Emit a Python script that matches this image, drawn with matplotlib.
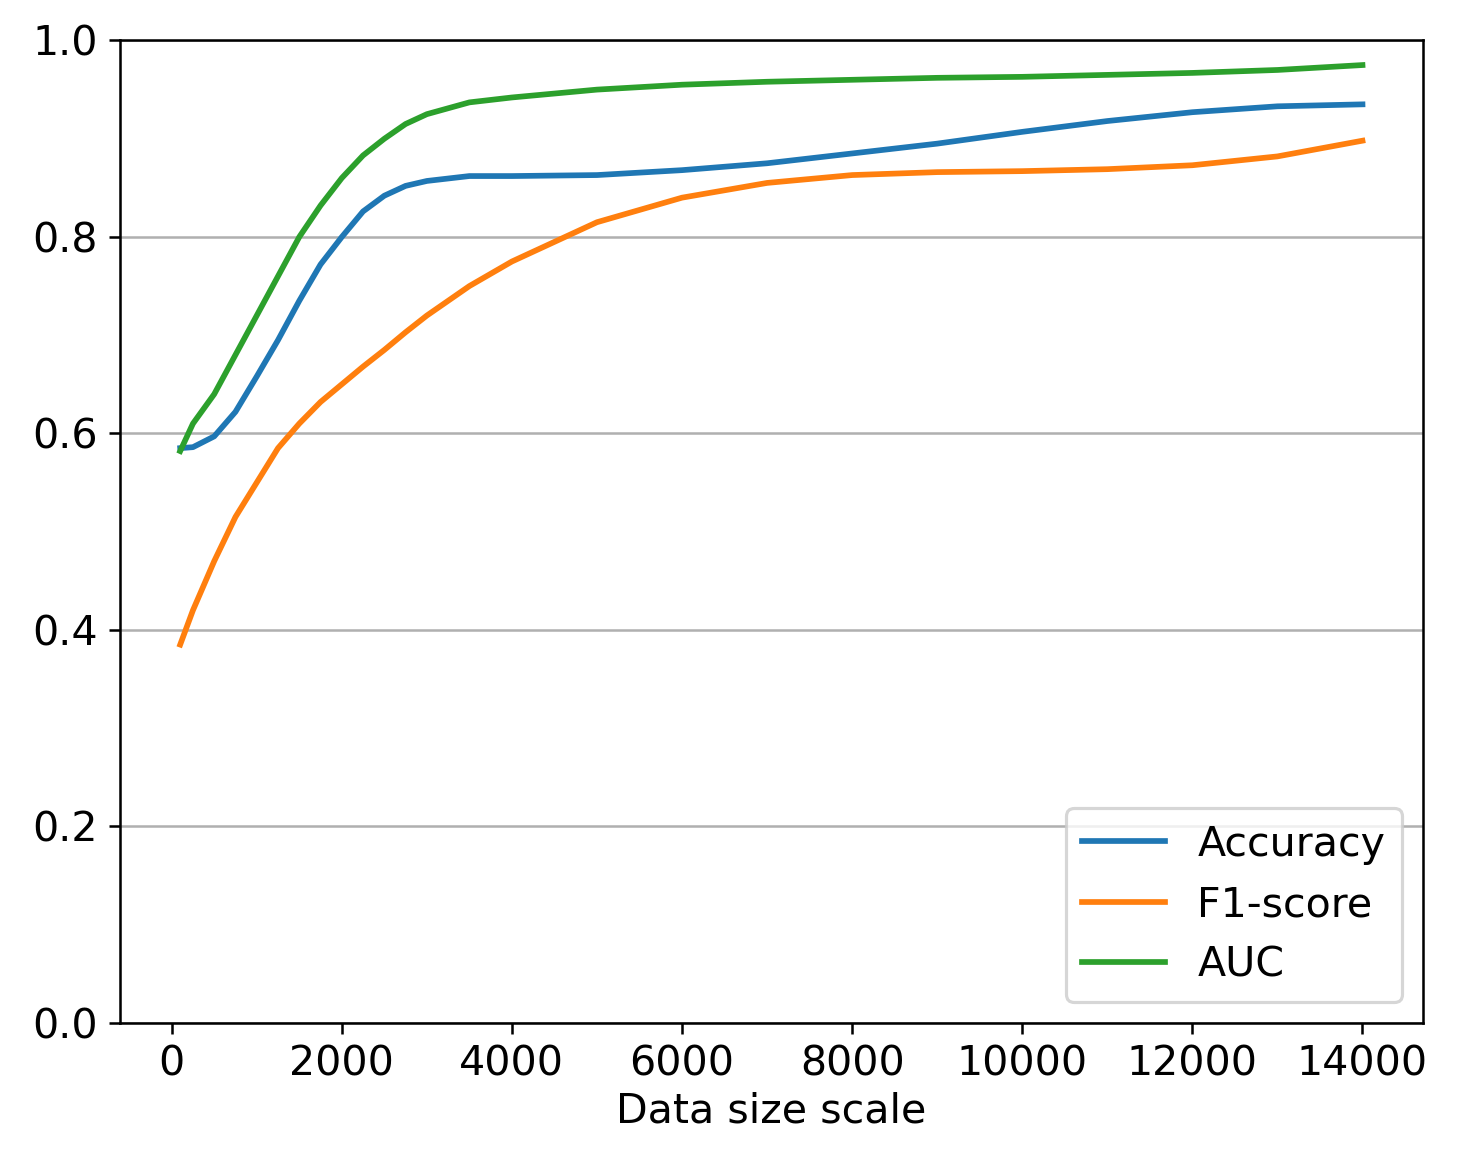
import matplotlib
matplotlib.use("Agg")
import matplotlib.pyplot as plt
import numpy as np

sizes = [100, 250, 500, 750, 1000, 1250, 1500, 1750, 2000, 2250, 2500, 2750,
         3000, 3500, 4000, 5000, 6000, 7000, 8000, 9000, 10000, 11000, 12000,
         13000, 14000]
accuracy = [0.585, 0.586, 0.597, 0.622, 0.658, 0.695, 0.735, 0.772, 0.80,
            0.826, 0.842, 0.852, 0.857, 0.862, 0.862, 0.863, 0.868, 0.875,
            0.885, 0.895, 0.907, 0.918, 0.927, 0.933, 0.935]
f1_score = [0.385, 0.42, 0.47, 0.515, 0.55, 0.585, 0.61, 0.632, 0.65, 0.668,
            0.685, 0.703, 0.72, 0.75, 0.775, 0.815, 0.84, 0.855, 0.863, 0.866,
            0.867, 0.869, 0.873, 0.882, 0.898]
auc = [0.582, 0.61, 0.64, 0.68, 0.72, 0.76, 0.80, 0.832, 0.86, 0.883, 0.90,
       0.915, 0.925, 0.937, 0.942, 0.95, 0.955, 0.958, 0.96, 0.962, 0.963,
       0.965, 0.967, 0.97, 0.975]

plt.rcParams["font.size"] = 13
fig = plt.figure(figsize=(1459 / 228, 1157 / 228), dpi=228)
ax = fig.add_axes([0.082, 0.116, 0.893, 0.849])
ax.plot(sizes, accuracy, label="Accuracy", lw=1.8)
ax.plot(sizes, f1_score, label="F1-score", lw=1.8)
ax.plot(sizes, auc, label="AUC", lw=1.8)
ax.set_xlim(-612, 14706)
ax.set_ylim(0, 1)
ax.set_xticks(np.arange(0, 14001, 2000))
ax.grid(axis="y")
ax.set_xlabel("Data size scale", labelpad=2)
ax.legend(loc="lower right")
fig.savefig("out.png", dpi=228)
